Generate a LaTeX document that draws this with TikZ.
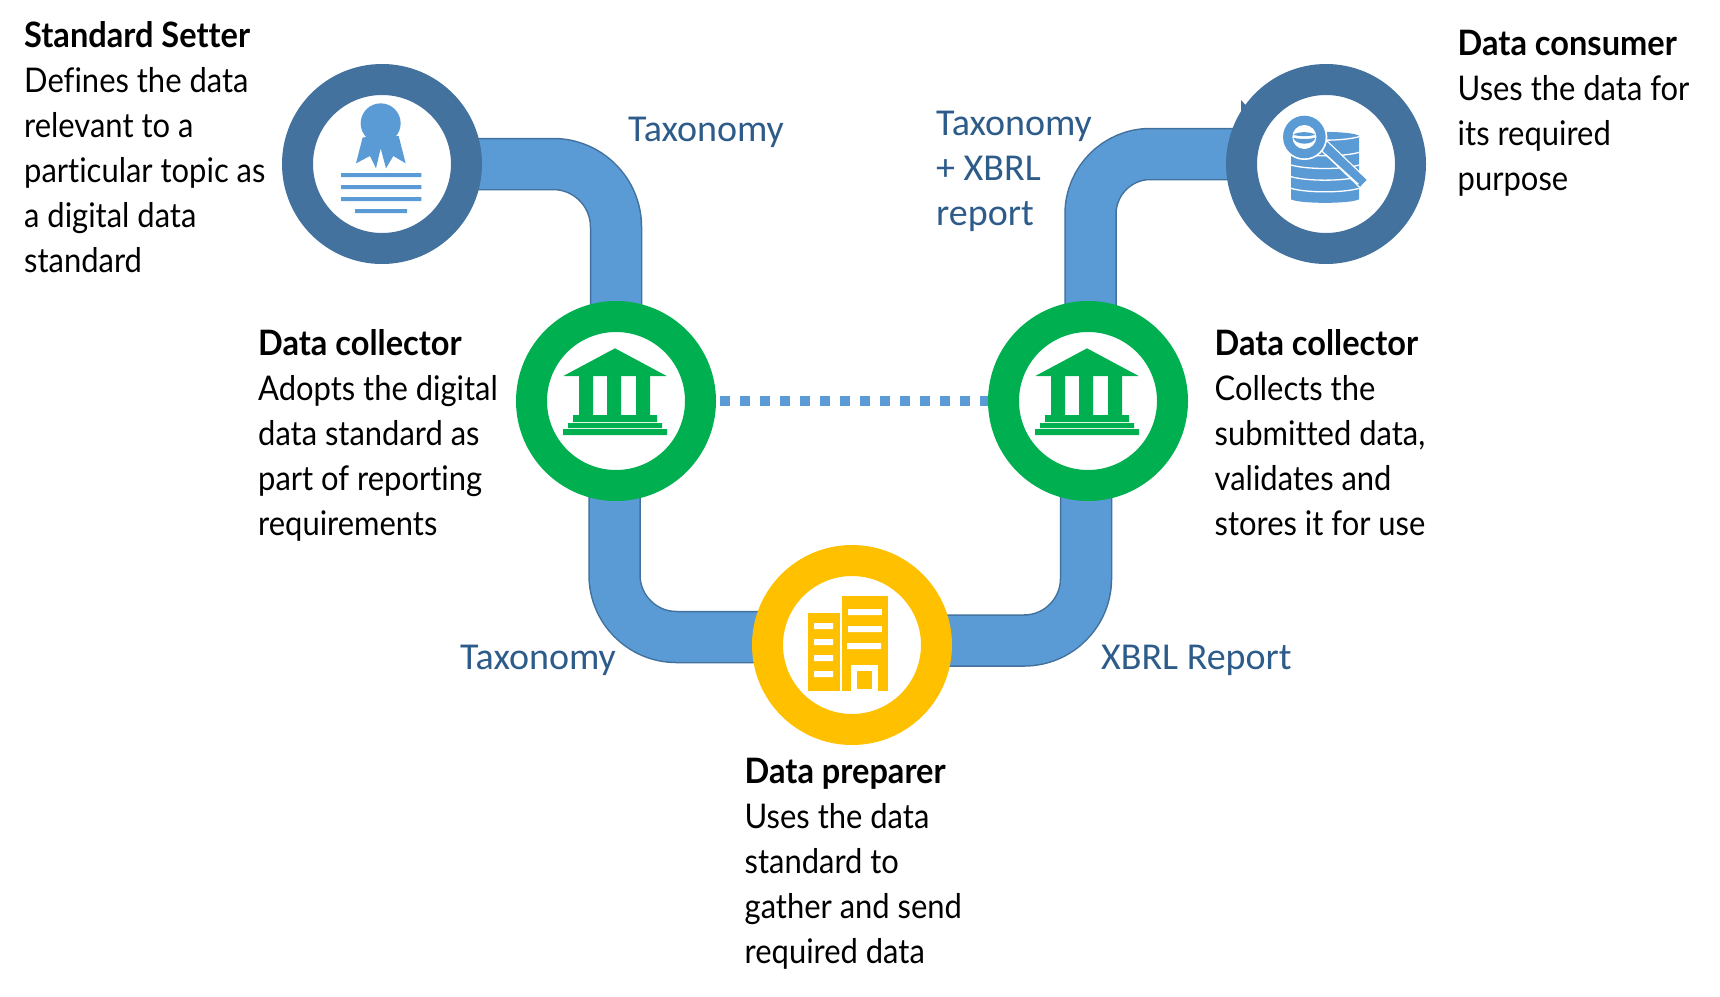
\documentclass[tikz,border=0pt]{standalone}
\usepackage{fontspec}
\setmainfont{Lato}[FakeStretch=0.91,Ligatures=CommonOff,BoldFeatures={FakeStretch=0.93}]
\newfontfamily\labelfont{Carlito}
\definecolor{pipeblue}{HTML}{5B9BD5}
\definecolor{pipeedge}{HTML}{41719C}
\definecolor{ringblue}{HTML}{44729F}
\definecolor{ringgreen}{HTML}{00B050}
\definecolor{ringgold}{HTML}{FFC000}
\definecolor{labelblue}{HTML}{2E5C8A}
\tikzset{
  ringnode/.style={circle,draw=#1,fill=white,line width=31pt,minimum size=169pt,inner sep=0pt,outer sep=0pt},
  pipe/.style={line width=1.5pt,draw=pipeedge,double=pipeblue,double distance=49.5pt,rounded corners=#1},
  dotline/.style={draw=pipeblue,line width=10pt,dash pattern=on 10pt off 10pt,dash phase=16pt},
  bodytext/.style={anchor=north west,inner sep=0pt,align=left,text=black,font=\fontsize{34}{45}\selectfont},
  flowlabel/.style={anchor=base west,inner sep=0pt,align=left,text=labelblue,font=\labelfont\fontsize{38}{45}\selectfont},
}
\newcommand{\hd}[1]{\rule{0pt}{30pt}{\fontsize{35}{45}\selectfont\textbf{#1}}}
\newcommand{\bankicon}[1]{%
  \begin{scope}[shift={(#1,290)},x=0.33333pt,y=-0.33333pt]
    \fill[ringgreen] (190,258)--(345,175)--(500,258)--cycle;
    \fill[ringgreen] (237,258) rectangle (279,375) (321,258) rectangle (363,375) (408,258) rectangle (450,375);
    \fill[ringgreen] (219,375) rectangle (471,396) (204,399) rectangle (486,414) (189,417) rectangle (501,435);
  \end{scope}}
\begin{document}
\begin{tikzpicture}[x=1pt,y=-1pt]
\useasboundingbox (0,0) rectangle (1720,996);
\coordinate (stdC) at (382,164);
\coordinate (consC) at (1326,164);
\coordinate (colLC) at (616,401);
\coordinate (colRC) at (1088,401);
\coordinate (prepC) at (852,645);
\coordinate (j2a) at (1090.5,401);
\coordinate (j2b) at (1326,154);
\coordinate (j3a) at (614.5,401);
\coordinate (j3b) at (852,637);
\coordinate (j4a) at (1086,401);
\coordinate (j4b) at (852,640.5);
% connectors
\draw[pipe=63pt] (stdC) -| (colLC);
\draw[pipe=60pt] (j2b) -| (j2a);
\draw[pipe=62pt] (j3a) |- (j3b);
\draw[pipe=62pt] (j4a) |- (j4b);
\draw[dotline] (colLC) -- (colRC);
\fill[pipeedge] (1241,100) -- (1241,118) -- (1250,110) -- cycle;
% circles
\node[ringnode=ringblue] (std) at (stdC) {};
\node[ringnode=ringblue] (cons) at (consC) {};
\node[ringnode=ringgreen] (colL) at (colLC) {};
\node[ringnode=ringgreen] (colR) at (colRC) {};
\node[ringnode=ringgold] (prep) at (prepC) {};
% ribbon icon
\begin{scope}[shift={(270,50)},x=0.33333pt,y=-0.33333pt]
  \fill[pipeblue] (332,220) circle[radius=20pt];
  \fill[pipeblue] (278,262)--(258,340)--(300,318)--(318,355)--(332,295)--(348,355)--(370,318)--(407,340)--(386,258)--cycle;
  \fill[pipeblue] (213,369) rectangle (454,381) (213,405) rectangle (454,417) (213,441) rectangle (454,453) (255,477) rectangle (411,489);
\end{scope}
% bank icons
\bankicon{500}
\bankicon{972}
% building icon
\begin{scope}[shift={(570,520)},x=0.37pt,y=-0.33333pt]
  \fill[ringgold] (735,228) rectangle (860,513);
  \fill[ringgold] (643,279) rectangle (730,513);
  \fill[white] (752,267) rectangle (843,285) (752,318) rectangle (843,336) (749,369) rectangle (841,387);
  \fill[white] (760,435) rectangle (833,513);
  \fill[ringgold] (776,453) rectangle (816,507);
  \fill[white] (660,309) rectangle (711,327) (660,357) rectangle (711,375) (660,405) rectangle (711,423) (660,453) rectangle (711,471);
\end{scope}
% database icon
\begin{scope}[shift={(1210,90)},x=0.33333pt,y=-0.33333pt]
  \fill[pipeblue] (243,137) .. controls (270,122) and (420,122) .. (447,137) -- (447,328) .. controls (420,342) and (270,342) .. (243,328) -- cycle;
  \foreach \yy in {140,187,225,260,295}
    \draw[white,line width=1.3pt] (243,\yy) .. controls (290,\yy+14) and (400,\yy+14) .. (447,\yy);
  \draw[white,line width=12pt] (340,165) -- (460,280);
  \draw[pipeblue,line width=9.5pt] (340,165) -- (460,280);
  \draw[white,line width=1.3pt] (345,192) -- (445,283);
  \fill[white] (283,141) circle[radius=23pt];
  \fill[pipeblue] (283,141) circle[radius=21.3pt];
  \fill[white] (283,141) circle[radius=12pt];
  \fill[pipeblue] (250,134) .. controls (265,124) and (300,124) .. (316,134) .. controls (300,140) and (265,140) .. (250,134) -- cycle;
  \fill[pipeblue] (250,143) .. controls (265,148) and (300,148) .. (316,143) .. controls (312,167) and (255,167) .. (250,143) -- cycle;
\end{scope}
% texts
\node[bodytext] (tStd) at (24,17.5) {\hd{Standard Setter}\\Defines the data\\relevant to a\\particular topic as\\a digital data\\standard};
\node[bodytext] (tColL) at (258,325) {\hd{Data collector}\\Adopts the digital\\data standard as\\part of reporting\\requirements};
\node[bodytext] (tColR) at (1214.5,325) {\hd{Data collector}\\Collects the\\submitted data,\\validates and\\stores it for use};
\node[bodytext] (tCons) at (1457.5,25.5) {\hd{Data consumer}\\Uses the data for\\its required\\purpose};
\node[bodytext] (tPrep) at (744.5,753) {\hd{Data preparer}\\Uses the data\\standard to\\gather and send\\required data};
\node[flowlabel] (l1) at (628,141) {Taxonomy};
\node[flowlabel] (l2) at (936,225) {Taxonomy\\+ XBRL\\report};
\node[flowlabel] (l3) at (460,669) {Taxonomy};
\node[flowlabel] (l4) at (1101,669) {XBRL Report};
\end{tikzpicture}
\end{document}
